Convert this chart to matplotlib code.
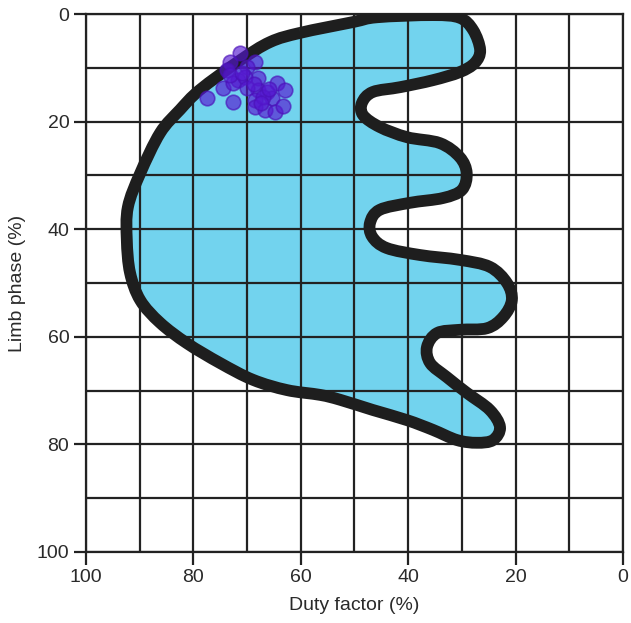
import matplotlib
matplotlib.use("Agg")
import matplotlib.pyplot as plt
from matplotlib.patches import PathPatch
from matplotlib.path import Path
import numpy as np

plt.rcParams['font.family'] = ['Liberation Sans', 'DejaVu Sans']

# outline of the shaded region (duty factor %, limb phase %)
blob_x = [60.1, 50.3, 45.8, 35.4, 30.4, 27.9, 26.6, 27.6, 30.4, 35.4, 41.5, 46.6,
          48.6, 48.4, 45.3, 40.2, 34.1, 30.4, 29.1, 30.0, 33.5, 39.7, 45.3, 47.1,
          46.7, 44.0, 37.8, 30.4, 24.8, 21.6, 20.7, 22.3, 25.3, 30.4, 34.6, 36.5,
          35.9, 32.8, 29.1, 24.8, 22.9, 24.2, 27.2, 30.9, 35.4, 40.2, 46.6, 52.7,
          56.4, 62.6, 68.9, 75.0, 81.2, 86.2, 89.9, 91.8, 92.4, 92.2, 89.9, 86.2,
          82.5, 78.8, 71.3, 65.7]
blob_y = [3.5, 1.5, 0.6, 0.2, 0.7, 3.0, 6.7, 9.1, 10.8, 12.3, 13.6, 14.5,
          16.5, 18.8, 21.0, 22.9, 24.0, 26.6, 29.6, 32.7, 34.2, 35.1, 36.4, 38.8,
          41.4, 43.5, 44.8, 45.7, 47.0, 50.0, 53.2, 56.3, 58.4, 58.7, 59.3, 61.9,
          64.9, 67.5, 70.4, 73.6, 76.8, 79.2, 79.7, 79.2, 77.3, 75.5, 73.6, 71.7,
          70.8, 69.9, 68.0, 64.9, 61.2, 57.4, 53.2, 48.1, 42.0, 35.9, 29.6, 22.1,
          17.8, 14.1, 8.6, 5.2]

# observed points
pts_x = [71.3, 73.2, 68.5, 73.7, 70.0, 68.0, 71.7, 74.5, 72.6, 64.4, 62.9, 68.0,
         66.3, 77.5, 72.6, 68.5, 65.4, 68.5, 66.7, 64.8, 63.3, 67.0, 70.4, 70.0,
         73.2, 68.8, 66.0, 67.5, 71.0]
pts_y = [7.2, 8.9, 8.9, 10.4, 9.9, 11.9, 12.3, 13.8, 12.8, 12.8, 14.1, 14.1,
         14.5, 15.6, 16.4, 16.0, 15.6, 17.3, 17.8, 18.2, 17.1, 15.4, 11.7, 13.8,
         11.3, 13.0, 14.0, 16.5, 11.0]


def smooth_closed_path(xs, ys):
    # closed cubic bezier through the outline points (catmull-rom tangents)
    p = np.column_stack([xs, ys])
    n = len(p)
    verts = [p[0]]
    codes = [Path.MOVETO]
    for i in range(n):
        p0, p1, p2, p3 = p[i - 1], p[i], p[(i + 1) % n], p[(i + 2) % n]
        verts += [p1 + (p2 - p0) / 6, p2 - (p3 - p1) / 6, p2]
        codes += [Path.CURVE4] * 3
    return Path(verts, codes)


fig = plt.figure(figsize=(6.31, 6.23), dpi=100)
ax = fig.add_axes([0.1363, 0.114, 0.851, 0.8635])

path = smooth_closed_path(blob_x, blob_y)
ax.add_patch(PathPatch(path, facecolor='#72d3ee', edgecolor='none', zorder=1))
ax.add_patch(PathPatch(path, facecolor='none', edgecolor='#1e1e1e',
                       linewidth=8.5, joinstyle='round', zorder=3))

ax.scatter(pts_x, pts_y, s=110, color='#5518d0', alpha=0.65,
           edgecolors='#4a10b8', linewidths=1.2, zorder=4)

ax.set_xlim(100, 0)
ax.set_ylim(100, 0)
ax.set_xticks(np.arange(0, 101, 20))
ax.set_yticks(np.arange(0, 101, 20))
ax.set_xticks(np.arange(0, 101, 10), minor=True)
ax.set_yticks(np.arange(0, 101, 10), minor=True)
ax.grid(True, which='both', color='#222222', linewidth=1.6, zorder=2)
ax.set_axisbelow(False)
for sp in ax.spines.values():
    sp.set_linewidth(1.6)
    sp.set_color('#222222')
    sp.set_zorder(2)

ax.tick_params(which='major', length=9, width=1.6, color='#222222',
               labelsize=14, labelcolor='#2a2a2a', pad=3)
ax.tick_params(which='minor', length=0)
ax.set_xlabel('Duty factor (%)', fontsize=14, color='#2a2a2a', labelpad=8)
ax.set_ylabel('Limb phase (%)', fontsize=14, color='#2a2a2a', labelpad=8)

fig.savefig('out.png', dpi=100)
